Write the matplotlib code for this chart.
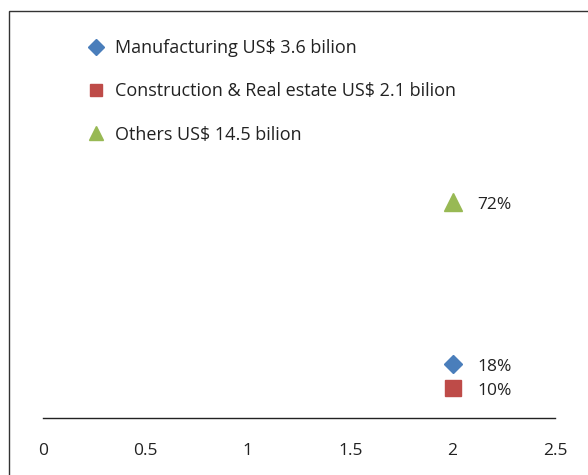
import matplotlib
matplotlib.use("Agg")
import matplotlib.pyplot as plt
from matplotlib.patches import Rectangle
from matplotlib.lines import Line2D

plt.rcParams['font.family'] = ['Open Sans', 'DejaVu Sans']

labels = ["Manufacturing US$ 3.6 bilion", "Construction & Real estate US$ 2.1 bilion", "Others US$ 14.5 bilion"]
x_vals = [2, 2, 2]
y_vals = [18, 10, 72]
pct_labels = ["18%", "10%", "72%"]
colors = ["#4A7EBB", "#BE4B48", "#98B954"]
markers = ["D", "s", "^"]
msizes = [9, 12, 12.5]
leg_sizes = [8, 8, 10.5]
xticks = [0, 0.5, 1, 1.5, 2, 2.5]
xtick_labels = ["0", "0.5", "1", "1.5", "2", "2.5"]

W, H = 588, 475
fig = plt.figure(figsize=(W/100, H/100), dpi=100)
left, right = 43, 555
bottom_px = 418  # y of value 0 from top
top_px = 118     # y of value 100
ax = fig.add_axes([left/W, 1 - bottom_px/H, (right-left)/W, (bottom_px-top_px)/H])
ax.set_xlim(0, 2.5)
ax.set_ylim(0, 100)
for s in ['top', 'right', 'left']:
    ax.spines[s].set_visible(False)
ax.spines['bottom'].set_color('#222222')
ax.spines['bottom'].set_linewidth(1.0)
ax.set_yticks([])
ax.set_xticks(xticks)
ax.set_xticklabels(xtick_labels, fontsize=12.5, color='#222222')
ax.tick_params(axis='x', length=0, pad=18)

for xv, yv, c, m, ms, pl in zip(x_vals, y_vals, colors, markers, msizes, pct_labels):
    ax.plot([xv], [yv], marker=m, color=c, markersize=ms, linestyle='none', clip_on=False)
    ax.annotate(pl, (xv, yv), xytext=(18, -2.5), textcoords='offset points',
                va='center', ha='left', fontsize=12.5, color='#222222')

handles = [Line2D([], [], marker=m, color=c, linestyle='none', markersize=ms)
           for c, m, ms in zip(colors, markers, leg_sizes)]
fig.legend(handles, labels, loc='upper left', bbox_to_anchor=(66/W, 1 - 23/H),
           frameon=False, fontsize=13, labelspacing=1.395, handletextpad=0.3,
           handlelength=1.5, labelcolor='#222222')

fig.add_artist(Rectangle((9/W, -0.1), 1, 1.1 - 11/H, transform=fig.transFigure,
                         fill=False, edgecolor='#333333', linewidth=1.0, clip_on=False))

fig.savefig("out.png", dpi=100)
